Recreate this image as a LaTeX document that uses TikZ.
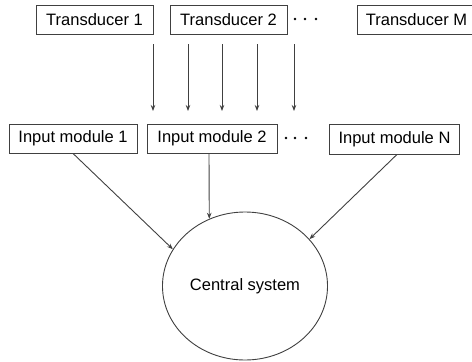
\documentclass[tikz,border=0pt]{standalone}
\usepackage{fontspec}
\setmainfont{Liberation Sans}
\usetikzlibrary{arrows.meta,shapes.geometric}

\tikzset{
  unitbox/.style={draw=black!75, line width=0.9pt, minimum height=29pt, inner sep=0pt,
    font=\fontsize{16.5}{18}\selectfont},
  feed/.style={draw=black!75, line width=0.9pt, -{Stealth[length=6pt,width=4.5pt]}},
  dotmark/.style={fill=black, draw=none}
}

\begin{document}
\begin{tikzpicture}[x=1pt, y=-1pt]
    \useasboundingbox (0,0) rectangle (472,362);

    \node[unitbox, minimum width=117pt] (tr1) at (94.5,19.5) {Transducer 1};
    \node[unitbox, minimum width=117pt] (tr2) at (228.5,19.5) {Transducer 2};
    \node[unitbox, minimum width=118pt] (trM) at (416.5,19.5) {Transducer M};

    \foreach \x in {295,305,316}
        \fill[dotmark] (\x,19) circle (1.3pt);

    \foreach \x [count=\i] in {153,188,222,257,294} {
        \coordinate (top\i) at (\x,44);
        \coordinate (tip\i) at (\x,111);
        \draw[feed] (top\i) -- (tip\i);
    }

    \node[unitbox, minimum width=128pt] (in1) at (73,138.5) {Input module 1};
    \node[unitbox, minimum width=130pt] (in2) at (212,138.5) {Input module 2};
    \node[unitbox, minimum width=130pt, minimum height=30pt] (inN) at (394.5,139) {Input module N};

    \foreach \x in {286,295,306}
        \fill[dotmark] (\x,138) circle (1.3pt);

    \node[ellipse, draw=black!75, line width=0.9pt, minimum width=158pt, minimum height=148pt,
        font=\fontsize{16.5}{18}\selectfont] (cent) at (245,286) {Central system};

    \draw[feed] (in1.south) -- (cent.153);
    \draw[feed] (in2.south -| 209,0) -- (cent.118);
    \draw[feed] (inN.south -| 397,0) -- (cent.36);
\end{tikzpicture}
\end{document}
